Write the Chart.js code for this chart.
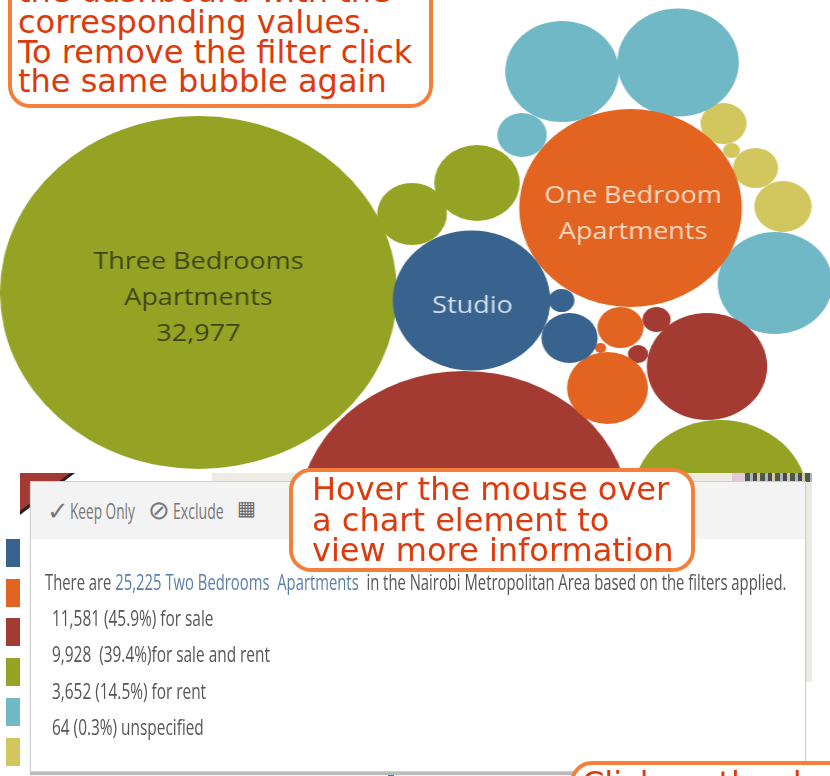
<!DOCTYPE html>
<html>
<head>
<meta charset="utf-8">
<title>Nairobi apartments bubble chart</title>
<script src="https://cdn.jsdelivr.net/npm/chart.js@4"></script>
<style>
  html, body { margin: 0; padding: 0; background: #fff; overflow: hidden; }
  #page { position: relative; width: 830px; height: 776px; overflow: hidden; font-family: "DejaVu Sans", sans-serif; }
  /* the reference screenshot is stretched sideways, so the chart is too */
  #stretch { position: absolute; left: 0; top: 0; width: 738px; height: 776px; transform: scaleX(1.1247); transform-origin: 0 0; filter: blur(0.4px); }
  .callout { position: absolute; box-sizing: border-box; background: #fff; border: 4px solid #f37f3b; border-radius: 22px; color: #dd3a0d; font-size: 32px; z-index: 5; }
  .callout div { position: absolute; white-space: nowrap; line-height: 30px; }
  #lower { position: absolute; left: 20px; top: 473px; width: 792px; height: 303px; background: #fff; }
  .bit { position: absolute; }
  #tip { position: absolute; left: 30px; top: 481px; width: 774px; height: 289px; background: #fff; border: 1px solid #d0d0d0; box-shadow: 0 3px 1px #bbb; z-index: 2; filter: blur(0.5px); }
  #tipHead { position: absolute; left: 0; top: 0; width: 100%; height: 57px; background: #f3f3f3; }
  .t { position: absolute; white-space: nowrap; font-family: "Open Sans", sans-serif; color: #555; transform-origin: 0 0; transform: scaleX(0.70); font-size: 22px; }
  .swatch { position: absolute; left: 6px; width: 14px; height: 28px; }
</style>
</head>
<body>
<div id="page">
  <div id="stretch"><canvas id="bubbles" width="738" height="776"></canvas></div>

  <div id="lower">
    <div class="bit" style="left:0;top:0;width:55px;height:42px;background:#222;clip-path:polygon(0 0,100% 0,0 100%)"></div>
    <div class="bit" style="left:0;top:0;width:50px;height:38px;background:#a33b33;clip-path:polygon(0 0,100% 0,0 100%)"></div>
    <div class="bit" style="left:192px;top:0;width:520px;height:9px;background:#eeebe5"></div>
    <div class="bit" style="left:712px;top:0;width:13px;height:9px;background:#e3c8dd"></div>
    <div class="bit" style="left:725px;top:0;width:67px;height:9px;background:repeating-linear-gradient(90deg,#4d5a4a 0 5px,#a9b7bf 5px 8px,#4a4a56 8px 12px,#d8c9a0 12px 15px)"></div>
    <div class="bit" style="left:785px;top:9px;width:7px;height:200px;background:#ecebe6"></div>
  </div>
  <div class="swatch" style="top:539px;background:#39638f"></div>
  <div class="swatch" style="top:579px;background:#e26420"></div>
  <div class="swatch" style="top:618px;background:#a33b33"></div>
  <div class="swatch" style="top:658px;background:#95a325"></div>
  <div class="swatch" style="top:698px;background:#71b8c6"></div>
  <div class="swatch" style="top:738px;background:#d2c75f"></div>
  <div class="bit" style="left:388px;top:770px;width:6px;height:6px;background:#39638f"></div>

  <div id="tip">
    <div id="tipHead"></div>
    <div class="t" style="left:16px;top:10px;color:#777;font-size:26px;transform:none">✓</div>
    <div class="t" style="left:39px;top:13px;color:#777;transform:scaleX(0.62)">Keep Only</div>
    <div class="t" style="left:117px;top:9px;color:#777;font-size:26px;transform:none">⊘</div>
    <div class="t" style="left:142px;top:13px;color:#777;transform:scaleX(0.64)">Exclude</div>
    <div class="t" style="left:206px;top:12px;color:#666;font-size:20px;transform:none">▦</div>
    <div class="t" style="left:14px;top:84px;transform:scaleX(0.674)">There are <span style="color:#5b7fa8">25,225 Two Bedrooms&nbsp; Apartments</span>&nbsp; in the Nairobi Metropolitan Area based on the filters applied.</div>
    <div class="t" style="left:21px;top:120px">11,581 (45.9%) for sale</div>
    <div class="t" style="left:21px;top:156px">9,928&nbsp; (39.4%)for sale and rent</div>
    <div class="t" style="left:21px;top:193px">3,652 (14.5%) for rent</div>
    <div class="t" style="left:21px;top:229px">64 (0.3%) unspecified</div>
  </div>

  <div class="callout" style="left:8px;top:-60px;width:425px;height:168px">
    <div style="left:6px;top:32px">the dashboard with the</div>
    <div style="left:6px;top:63px">corresponding values.</div>
    <div style="left:6px;top:93px">To remove the filter click</div>
    <div style="left:6px;top:122px">the same bubble again</div>
  </div>
  <div class="callout" style="left:289px;top:468px;width:406px;height:104px">
    <div style="left:19px;top:2px">Hover the mouse over</div>
    <div style="left:19px;top:33px">a chart element to</div>
    <div style="left:19px;top:63px">view more information</div>
  </div>
  <div class="callout" style="left:570px;top:761px;width:300px;height:60px">
    <div style="left:8px;top:3px">Click on the d</div>
  </div>
</div>

<script>
// Bubbles by apartment type (x, y in picture pixels, r = radius)
const studioX = [471.5, 569.5, 561.5];
const studioY = [300.5, 338, 300.5];
const studioR = [70, 25, 11.5];

const oneBedX = [630.5, 620.5, 607.5, 600.5];
const oneBedY = [208, 327.5, 388, 348];
const oneBedR = [99, 20.5, 36, 5];

const twoBedX = [464, 707, 656.5, 638];
const twoBedY = [519, 366.5, 319.5, 354];
const twoBedR = [148, 53.5, 12.5, 9];

const threeBedX = [198.5, 412, 477, 720];
const threeBedY = [292.5, 214, 183, 498];
const threeBedR = [176.5, 31, 38, 78];

const fourBedX = [562, 678, 522, 775];
const fourBedY = [71.5, 62.5, 135, 283];
const fourBedR = [50.5, 54, 22, 51];

const fiveBedX = [723.5, 731.5, 755.5, 783];
const fiveBedY = [123.5, 150.5, 168, 206.5];
const fiveBedR = [20.5, 7.5, 20, 25.5];

const bubbleLabels = [
  { lines: ['Three Bedrooms', 'Apartments', '32,977'], x: 198.5, y: 262, color: '#3c4516' },
  { lines: ['One Bedroom', 'Apartments'], x: 633, y: 196, color: '#f8d9c4' },
  { lines: ['Studio'], x: 472.5, y: 306, color: '#d5dfea' }
];

function points(xs, ys, rs) {
  return xs.map((x, i) => ({ x: x, y: ys[i], r: rs[i] }));
}

// Draws the names inside the big bubbles
const labelPlugin = {
  id: 'bubbleLabels',
  afterDatasetsDraw(chart) {
    const ctx = chart.ctx;
    ctx.save();
    ctx.font = '24px "Open Sans"';
    ctx.textAlign = 'center';
    ctx.textBaseline = 'middle';
    bubbleLabels.forEach(l => {
      ctx.fillStyle = l.color;
      l.lines.forEach((line, i) => {
        ctx.fillText(line, chart.scales.x.getPixelForValue(l.x), chart.scales.y.getPixelForValue(l.y + i * 36));
      });
    });
    ctx.restore();
  }
};

new Chart(document.getElementById('bubbles').getContext('2d'), {
  type: 'bubble',
  plugins: [labelPlugin],
  data: {
    datasets: [
      { label: 'Studio', data: points(studioX, studioY, studioR), backgroundColor: '#39638f' },
      { label: 'One Bedroom', data: points(oneBedX, oneBedY, oneBedR), backgroundColor: '#e26420' },
      { label: 'Two Bedrooms', data: points(twoBedX, twoBedY, twoBedR), backgroundColor: '#a33b33' },
      { label: 'Three Bedrooms', data: points(threeBedX, threeBedY, threeBedR), backgroundColor: '#95a325' },
      { label: 'Four Bedrooms', data: points(fourBedX, fourBedY, fourBedR), backgroundColor: '#71b8c6' },
      { label: 'Five Bedrooms', data: points(fiveBedX, fiveBedY, fiveBedR), backgroundColor: '#d2c75f' }
    ]
  },
  options: {
    responsive: false,
    animation: false,
    devicePixelRatio: 1,
    layout: { padding: 0, autoPadding: false },
    elements: { point: { borderWidth: 0, hoverBorderWidth: 0 } },
    plugins: { legend: { display: false }, tooltip: { enabled: false } },
    scales: {
      x: { display: false, min: 0, max: 830 },
      y: { display: false, min: 0, max: 776, reverse: true }
    }
  }
});
</script>
</body>
</html>
